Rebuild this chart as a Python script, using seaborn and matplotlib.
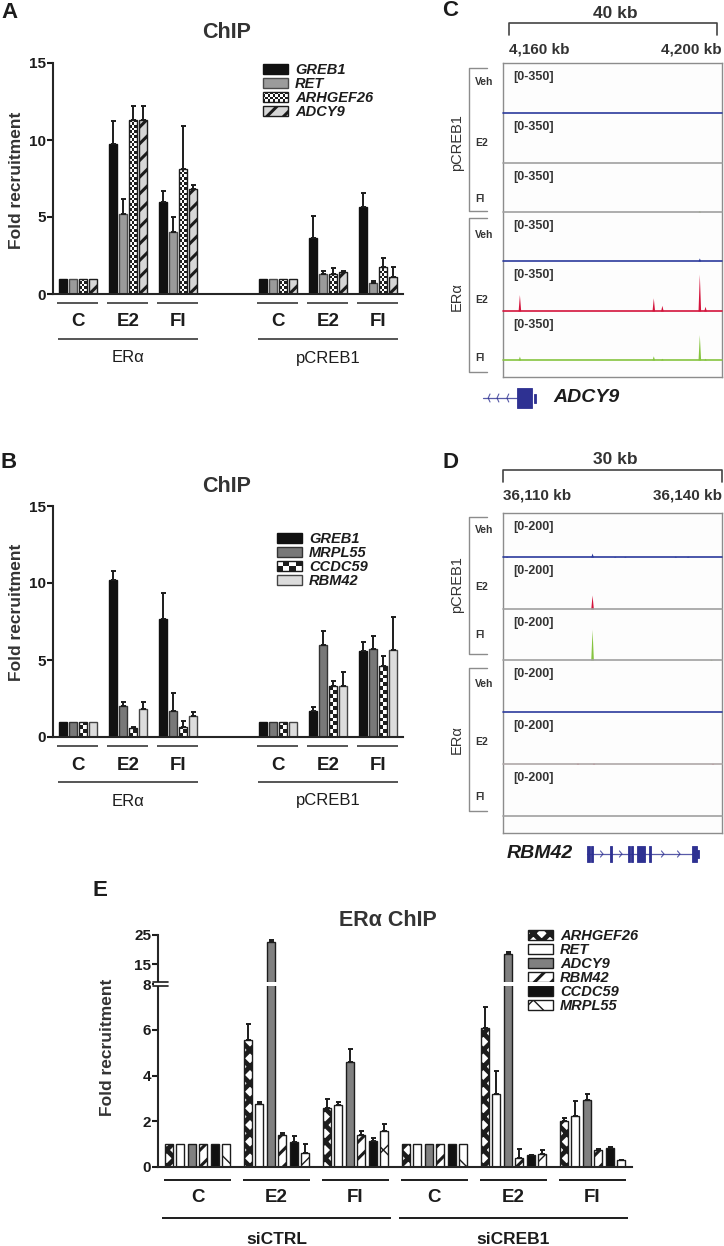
import numpy as np
import pandas as pd
import matplotlib.pyplot as plt
import matplotlib.transforms as mtransforms
from matplotlib.patches import Rectangle, Patch
from matplotlib.legend_handler import HandlerBase
import seaborn as sns

W, H = 724, 1246

# ---------------- panel A data ----------------
a_conds = ['ERα C', 'ERα E2', 'ERα FI', 'pCREB1 C', 'pCREB1 E2', 'pCREB1 FI']
a_order = ['ERα C', 'ERα E2', 'ERα FI', 'gap', 'pCREB1 C', 'pCREB1 E2', 'pCREB1 FI']
a_genes = ['GREB1', 'RET', 'ARHGEF26', 'ADCY9']
a_greb1 = [1.0, 9.75, 5.96, 1.0, 3.62, 5.64]
a_ret = [1.0, 5.18, 4.01, 1.0, 1.30, 0.74]
a_arhgef26 = [1.0, 11.27, 8.10, 1.0, 1.30, 1.73]
a_adcy9 = [1.0, 11.27, 6.80, 1.0, 1.45, 1.13]
a_greb1_err = [0, 1.50, 0.74, 0, 1.47, 0.95]
a_ret_err = [0, 0.98, 0.98, 0, 0.20, 0.10]
a_arhgef26_err = [0, 0.93, 2.78, 0, 0.40, 0.63]
a_adcy9_err = [0, 0.93, 0.28, 0, 0.07, 0.65]

# ---------------- panel B data ----------------
b_genes = ['GREB1', 'MRPL55', 'CCDC59', 'RBM42']
b_greb1 = [1.0, 10.2, 7.65, 1.0, 1.71, 5.60]
b_mrpl55 = [1.0, 2.03, 1.66, 1.0, 5.99, 5.73]
b_ccdc59 = [1.0, 0.56, 0.63, 1.0, 3.33, 4.62]
b_rbm42 = [1.0, 1.82, 1.38, 1.0, 3.33, 5.66]
b_greb1_err = [0, 0.60, 1.73, 0, 0.24, 0.54]
b_mrpl55_err = [0, 0.24, 1.19, 0, 0.90, 0.84]
b_ccdc59_err = [0, 0.09, 0.39, 0, 0.32, 0.67]
b_rbm42_err = [0, 0.45, 0.24, 0, 0.86, 2.14]

treat_labels = ['C', 'E2', 'FI', 'C', 'E2', 'FI']

# ---------------- panel E data ----------------
e_conds = ['siCTRL C', 'siCTRL E2', 'siCTRL FI', 'siCREB1 C', 'siCREB1 E2', 'siCREB1 FI']
e_genes = ['ARHGEF26', 'RET', 'ADCY9', 'RBM42', 'CCDC59', 'MRPL55']
e_arhgef26 = [1.0, 5.56, 2.59, 1.0, 6.10, 2.00]
e_ret = [1.0, 2.78, 2.70, 1.0, 3.19, 2.24]
e_adcy9 = [1.0, 22.6, 4.58, 1.0, 18.3, 2.92]
e_rbm42 = [1.0, 1.42, 1.39, 1.0, 0.41, 0.76]
e_ccdc59 = [1.0, 1.10, 1.13, 1.0, 0.51, 0.85]
e_mrpl55 = [1.0, 0.63, 1.56, 1.0, 0.58, 0.29]
e_arhgef26_err = [0, 0.68, 0.38, 0, 0.92, 0.15]
e_ret_err = [0, 0.07, 0.15, 0, 1.02, 0.65]
e_adcy9_err = [0, 0.60, 0.58, 0, 0.80, 0.27]
e_rbm42_err = [0, 0.07, 0.19, 0, 0.36, 0.04]
e_ccdc59_err = [0, 0.25, 0.14, 0, 0.03, 0.03]
e_mrpl55_err = [0, 0.36, 0.31, 0, 0.15, 0.02]

# ---------------- genome tracks (kb, signal) ----------------
track_names = ['Veh', 'E2', 'FI', 'Veh', 'E2', 'FI']
c_peak_pos = [[], [], [4196.6], [4196.6],
              [4162.0, 4187.75, 4189.4, 4196.6, 4197.7],
              [4162.0, 4187.75, 4189.4, 4196.6, 4197.7]]
c_peak_h = [[], [], [10], [22],
            [115, 92, 40, 258, 33],
            [28, 30, 12, 181, 12]]
d_peak_pos = [[36110.5, 36122.2, 36125.3, 36126.7, 36133.6, 36135.3],
              [36122.2], [36122.2, 36138.5], [],
              [36120.2, 36122.4, 36138.7], []]
d_peak_h = [[4, 18, 3, 3, 4, 4], [54], [120, 3], [], [4, 4, 3], []]

# gene models (kb)
adcy9_line = (4155.0, 4161.5)
adcy9_exons = [(4161.5, 4164.4, 1.0), (4164.8, 4165.2, 0.45)]
adcy9_chevrons = [4156.0, 4157.7, 4159.6]
rbm42_line = (36121.5, 36136.7)
rbm42_exons = [(36121.55, 36121.85, 1.0), (36122.1, 36122.35, 1.0), (36124.65, 36124.9, 1.0),
               (36127.1, 36127.35, 1.0), (36127.55, 36127.8, 1.0), (36128.35, 36129.45, 1.0),
               (36130.0, 36130.25, 1.0), (36135.9, 36136.6, 1.0), (36136.6, 36136.85, 0.55)]
rbm42_chevrons = [36123.7, 36126.3, 36132.05, 36134.25]

INK = '#1c1c1c'
BLUE = '#2b3a9c'
RED = '#d4143c'
GREEN = '#86c440'
GENE = '#2e3192'

sns.set_style('ticks')
plt.rcParams['font.family'] = ['Liberation Sans', 'DejaVu Sans']
plt.rcParams['hatch.linewidth'] = 2.0
plt.rcParams['axes.linewidth'] = 1.5

fig = plt.figure(figsize=(W / 100, H / 100), dpi=100)


def box(l, t, r, b):
    return [l / W, 1 - b / H, (r - l) / W, (b - t) / H]


ov = fig.add_axes([0, 0, 1, 1], zorder=20)
ov.set_xlim(0, W)
ov.set_ylim(H, 0)
ov.axis('off')
ov.set_autoscale_on(False)


def ft(x, y, s, **kw):
    kw.setdefault('ha', 'center')
    kw.setdefault('va', 'center')
    kw.setdefault('color', INK)
    return ov.text(x, y, s, **kw)


class CheckerKey:
    def __init__(self, nx, ny):
        self.nx, self.ny = nx, ny


class CheckerHandler(HandlerBase):
    def create_artists(self, legend, key, xd, yd, width, height, fontsize, trans):
        arts = [Rectangle((-xd, -yd), width, height, fc='white', ec=INK, lw=1, transform=trans)]
        for i in range(key.nx):
            for j in range(key.ny):
                if (i + j) % 2 == 0:
                    arts.append(Rectangle((-xd + i * width / key.nx, -yd + j * height / key.ny),
                                          width / key.nx, height / key.ny, fc=INK, ec='none',
                                          transform=trans))
        return arts


def bar_panel(rect, conds, order, genes, values, errors, styles, width, gap):
    df = pd.DataFrame({'cond': np.tile(conds, len(genes)),
                       'gene': np.repeat(genes, len(conds)),
                       'value': np.concatenate(values)})
    ax = fig.add_axes(rect)
    sns.barplot(data=df, x='cond', y='value', hue='gene', order=order, hue_order=genes,
                palette=[styles[g]['fc'] for g in genes], saturation=1, width=width, gap=gap,
                errorbar=None, legend=False, linewidth=1, edgecolor=INK, ax=ax)
    groups = {}
    for p in ax.patches:
        groups.setdefault(int(round(p.get_x() + p.get_width() / 2)), []).append(p)
    ex, ey, ee, checkers = [], [], [], []
    for pos, ps in groups.items():
        ci = conds.index(order[pos])
        for g, p in zip(genes, sorted(ps, key=lambda q: q.get_x())):
            st = styles[g]
            p.set_facecolor(st['fc'])
            p.set_edgecolor(st['ec'])
            if 'hatch' in st:
                p.set_hatch(st['hatch'])
                if hasattr(p, 'set_hatch_linewidth'):
                    p.set_hatch_linewidth(st['hlw'])
            if 'checker' in st:
                checkers.append((p, st['checker']))
            e = errors[genes.index(g)][ci]
            if e > 0:
                ex.append(p.get_x() + p.get_width() / 2)
                ey.append(p.get_height())
                ee.append(e)
    ax.errorbar(ex, ey, yerr=[np.zeros(len(ee)), ee], fmt='none', ecolor=INK,
                elinewidth=1.4, capsize=1.8, capthick=1.4, zorder=4)
    ax.set_xlim(-0.5, len(order) - 0.5)
    ax.set_xticks([])
    ax.set_xlabel('')
    ax.set_ylabel('')
    sns.despine(ax=ax)
    ax.tick_params(axis='y', length=4, width=1.5, labelsize=11, pad=1, colors=INK)
    return ax, checkers


def add_checkers(ax, checkers):
    for p, ncol in checkers:
        x0, w, h = p.get_x(), p.get_width(), p.get_height()
        (px0, py0), (px1, py1) = ax.transData.transform([(x0, 0), (x0 + w, 1)])
        cw = w / ncol
        ch = ((px1 - px0) / ncol) / (py1 - py0)
        for r in range(int(np.ceil(h / ch))):
            for c in range(ncol):
                if (r + c) % 2 == 0:
                    ax.add_patch(Rectangle((x0 + c * cw, r * ch), cw, min(ch, h - r * ch),
                                           fc=INK, ec='none', zorder=p.zorder + 0.1))


def legend_for(ax, genes, styles, x, y, fs=10.5):
    handles = []
    for g in genes:
        st = styles[g]
        if 'checker' in st:
            handles.append(CheckerKey(*st['legend_checker']))
        else:
            handles.append(Patch(fc=st['fc'], ec=st['ec'], hatch=st.get('hatch'), lw=1))
    leg = ax.legend(handles, genes, loc='upper left', bbox_to_anchor=(x / W, 1 - y / H),
                    bbox_transform=fig.transFigure, frameon=False, borderpad=0,
                    borderaxespad=0, handlelength=1.7, handleheight=0.7, handletextpad=0.5,
                    labelspacing=0.0, handler_map={CheckerKey: CheckerHandler()},
                    prop={'size': fs, 'weight': 'bold', 'style': 'italic'})
    for h, g in zip(leg.legend_handles, genes):
        if 'hlw' in styles[g] and hasattr(h, 'set_hatch_linewidth'):
            h.set_hatch_linewidth(styles[g]['hlw'])
    for t in leg.get_texts():
        t.set_color(INK)
    return leg


def group_lines(ax, centers, half, y_line, y_lab, labels, color, fs, weight='bold'):
    bt = mtransforms.blended_transform_factory(ax.transData, ov.transData)
    for c, lab in zip(centers, labels):
        ov.plot([c - half, c + half], [y_line, y_line], color=color, lw=1.4,
                transform=bt, solid_capstyle='butt')
        ov.text(c, y_lab, lab, transform=bt, ha='center', va='center', fontsize=fs,
                fontweight=weight, color=INK)


# ================= panel A =================
a_styles = {'GREB1': dict(fc='#111111', ec='#111111'),
            'RET': dict(fc='#9b9b9b', ec='#4a4a4a'),
            'ARHGEF26': dict(fc='white', ec=INK, checker=3, legend_checker=(10, 4)),
            'ADCY9': dict(fc='#d6d6d6', ec=INK, hatch='//', hlw=2.2)}
axA, chkA = bar_panel(box(53, 63, 403, 294), a_conds, a_order, a_genes,
                      [a_greb1, a_ret, a_arhgef26, a_adcy9],
                      [a_greb1_err, a_ret_err, a_arhgef26_err, a_adcy9_err],
                      a_styles, 0.8, 0.22)
axA.set_ylim(0, 15)
axA.set_yticks([0, 5, 10, 15])
for t in axA.get_yticklabels():
    t.set_fontweight('bold')
add_checkers(axA, chkA)
legend_for(axA, a_genes, a_styles, 263, 63)
ft(10, 12, 'A', fontsize=16, fontweight='bold')
ft(227, 33, 'ChIP', fontsize=15.5, fontweight='bold', color='#333333')
ft(17, 180, 'Fold recruitment', rotation=90, fontsize=12.5, fontweight='bold', color='#333333')
group_lines(axA, [0, 1, 2, 4, 5, 6], 0.41, 303, 322, treat_labels, '#555555', 13.5)
group_lines(axA, [1, 5], 1.4, 339, 358, ['ERα', 'pCREB1'], '#555555', 12, weight='normal')

# ================= panel B =================
b_styles = {'GREB1': dict(fc='#111111', ec='#111111'),
            'MRPL55': dict(fc='#787878', ec='#333333'),
            'CCDC59': dict(fc='white', ec=INK, checker=2, legend_checker=(4, 2)),
            'RBM42': dict(fc='#dcdcdc', ec='#444444')}
axB, chkB = bar_panel(box(53, 506, 403, 737), a_conds, a_order, b_genes,
                      [b_greb1, b_mrpl55, b_ccdc59, b_rbm42],
                      [b_greb1_err, b_mrpl55_err, b_ccdc59_err, b_rbm42_err],
                      b_styles, 0.8, 0.22)
axB.set_ylim(0, 15)
axB.set_yticks([0, 5, 10, 15])
for t in axB.get_yticklabels():
    t.set_fontweight('bold')
add_checkers(axB, chkB)
legend_for(axB, b_genes, b_styles, 277, 532)
ft(9, 463, 'B', fontsize=16, fontweight='bold')
ft(227, 487, 'ChIP', fontsize=15.5, fontweight='bold', color='#333333')
ft(17, 612, 'Fold recruitment', rotation=90, fontsize=12.5, fontweight='bold', color='#333333')
group_lines(axB, [0, 1, 2, 4, 5, 6], 0.41, 746, 765, treat_labels, '#555555', 13.5)
group_lines(axB, [1, 5], 1.4, 782, 801, ['ERα', 'pCREB1'], '#555555', 12, weight='normal')

# ================= panel E =================
K = 0.127


def fwd(y):
    y = np.asarray(y, float)
    return np.where(y <= 8, y, 8 + (y - 8) * K)


def inv(y):
    y = np.asarray(y, float)
    return np.where(y <= 8, y, 8 + (y - 8) / K)


e_styles = {'ARHGEF26': dict(fc='white', ec=INK, hatch='xx', hlw=3.4),
            'RET': dict(fc='white', ec=INK),
            'ADCY9': dict(fc='#808080', ec=INK),
            'RBM42': dict(fc='white', ec=INK, hatch='//', hlw=2.2),
            'CCDC59': dict(fc='#111111', ec=INK),
            'MRPL55': dict(fc='white', ec=INK, hatch='x', hlw=1.0)}
axE, _ = bar_panel(box(158, 935, 632, 1167), e_conds, e_conds, e_genes,
                   [e_arhgef26, e_ret, e_adcy9, e_rbm42, e_ccdc59, e_mrpl55],
                   [e_arhgef26_err, e_ret_err, e_adcy9_err, e_rbm42_err, e_ccdc59_err, e_mrpl55_err],
                   e_styles, 0.87, 0.27)
axE.set_yscale('function', functions=(fwd, inv))
axE.set_ylim(0, 25)
axE.set_yticks([0, 2, 4, 6, 8, 15, 25])
axE.set_yticklabels(['0', '2', '4', '6', '8', '15', '25'], fontweight='bold', fontsize=11)
axE.minorticks_off()
legend_for(axE, e_genes, e_styles, 528, 929)
# axis break at 8
ov.add_patch(Rectangle((154, 982), 478, 4, fc='white', ec='none', zorder=5))
ov.plot([153, 168], [982, 982], color=INK, lw=1.2, zorder=6)
ov.plot([153, 168], [986, 986], color=INK, lw=1.2, zorder=6)
ft(100, 891, 'E', fontsize=16, fontweight='bold')
ft(388, 921, 'ERα ChIP', fontsize=15.5, fontweight='bold', color='#333333')
ft(108, 1047, 'Fold recruitment', rotation=90, fontsize=12.5, fontweight='bold', color='#333333')
group_lines(axE, range(6), 0.43, 1180, 1198, treat_labels, INK, 13.5)
group_lines(axE, [1, 4], 1.45, 1218, 1240, ['siCTRL', 'siCREB1'], INK, 12.5)


# ================= genome tracks C / D =================
def track_panel(top, bases, xl, pos, hts, ymax, rng, base_cols, peak_cols, halfw):
    tops = [top] + bases[:-1]
    frame = fig.add_axes(box(503, top, 722, bases[-1] + 17), zorder=1)
    frame.set_xticks([])
    frame.set_yticks([])
    frame.set_facecolor('#fdfdfd')
    for s in frame.spines.values():
        s.set_color('#8c8c8c')
        s.set_linewidth(1)
    axes = []
    for i in range(6):
        ax = fig.add_axes(box(503, tops[i], 722, bases[i]), zorder=2)
        ax.set_xlim(*xl)
        ax.set_ylim(0, ymax)
        ax.axis('off')
        xs, ys = [xl[0]], [0]
        for p, h in sorted(zip(pos[i], hts[i])):
            xs += [p - halfw, p, p + halfw]
            ys += [0, h, 0]
        xs.append(xl[1])
        ys.append(0)
        ax.fill_between(xs, ys, color=peak_cols[i], lw=0)
        ax.plot(xl, [0, 0], color=base_cols[i], lw=1.2, clip_on=False)
        ft(513, tops[i] + 14, rng, ha='left', fontsize=9, fontweight='bold', color='#333333')
        axes.append(ax)
    return axes


c_base = [BLUE, '#a0a0a0', '#a0a0a0', BLUE, RED, GREEN]
peak_cols = [BLUE, RED, GREEN, BLUE, RED, GREEN]
c_xl = (4160 + (503 - 509) / 5.2, 4160 + (722 - 509) / 5.2)
c_axes = track_panel(63, [113, 163, 212, 261, 311, 360], c_xl, c_peak_pos, c_peak_h,
                     350, '[0-350]', c_base, peak_cols, 0.25)
d_base = [BLUE, '#a0a0a0', '#a0a0a0', BLUE, '#b0a8a8', '#a0a0a0']
d_xl = (36110, 36140)
d_axes = track_panel(513, [557, 609, 660, 712, 764, 816], d_xl, d_peak_pos, d_peak_h,
                     200, '[0-200]', d_base, peak_cols, 0.18)

for (ys, brk, lab_y, axs, span, top_lab, bot_lab, y_bar, y_kb, kb_txt, kb_y) in [
        ([82, 143, 199, 235, 300, 358], [(68, 211), (218, 372)], [143, 297], c_axes,
         (4160, 4200), '4,160 kb', '4,200 kb', 23, 49, '40 kb', 13),
        ([530, 587, 635, 684, 742, 797], [(517, 654), (668, 811)], [585, 740], d_axes,
         (36110, 36140), '36,110 kb', '36,140 kb', 470, 496, '30 kb', 460)]:
    for y, name in zip(ys, track_names):
        ft(475, y, name, ha='left', fontsize=7.5, fontweight='bold', color='#333333')
    for (y0, y1), ly, name in zip(brk, lab_y, ['pCREB1', 'ERα']):
        ov.plot([487, 469, 469, 487], [y0, y0, y1, y1], color='#8c8c8c', lw=1)
        ft(457, ly, name, rotation=90, fontsize=10.5, color='#333333')
    bt = mtransforms.blended_transform_factory(axs[0].transData, ov.transData)
    ov.plot([span[0], span[0], span[1], span[1]], [y_bar + 12, y_bar, y_bar, y_bar + 12],
            transform=bt, color='#444444', lw=1.2)
    ft(615, kb_y, kb_txt, fontsize=12.5, fontweight='bold', color='#333333')
    ft(509 if kb_txt == '40 kb' else 503, y_kb, top_lab, ha='left', fontsize=11,
       fontweight='bold', color='#333333')
    ft(722, y_kb, bot_lab, ha='right', fontsize=11, fontweight='bold', color='#333333')

ft(450, 10, 'C', fontsize=16, fontweight='bold')
ft(450, 463, 'D', fontsize=16, fontweight='bold')


def gene_model(rect, xl, line, exons, chevrons, direction):
    ax = fig.add_axes(rect, zorder=3)
    ax.set_xlim(*xl)
    ax.set_ylim(-1.3, 1.3)
    ax.axis('off')
    ax.plot(line, [0, 0], color=GENE, lw=0.9, alpha=0.8)
    for c in chevrons:
        d = 0.35 * direction
        ax.plot([c - d, c, c - d], [0.4, 0, -0.4], color=GENE, lw=0.8, alpha=0.8)
    for s, e, hh in exons:
        ax.add_patch(Rectangle((s, -hh), e - s, 2 * hh, fc=GENE, ec=GENE, lw=0.6))
    return ax


gene_model(box(470, 385, 722, 411), (4160 + (470 - 509) / 5.2, 4160 + (722 - 509) / 5.2),
           adcy9_line, adcy9_exons, adcy9_chevrons, -1)
ft(553, 398, 'ADCY9', ha='left', fontsize=14, fontweight='bold', style='italic')
gene_model(box(580, 844, 722, 864), (36110 + (580 - 503) / 7.3, 36140),
           rbm42_line, rbm42_exons, rbm42_chevrons, 1)
ft(573, 854, 'RBM42', ha='right', fontsize=14, fontweight='bold', style='italic')

fig.savefig('out.png', dpi=100)
